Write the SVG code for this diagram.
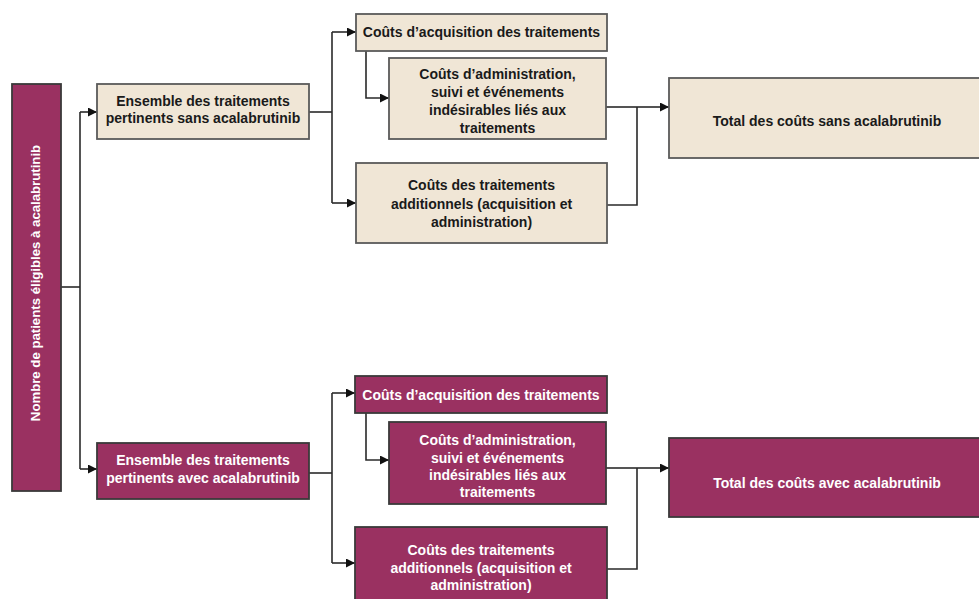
<svg xmlns="http://www.w3.org/2000/svg" width="979" height="599" viewBox="0 0 979 599">
  <defs>
    <marker id="arrow" viewBox="0 0 10 10" refX="10" refY="5" markerWidth="10" markerHeight="9" markerUnits="userSpaceOnUse" orient="auto">
      <path d="M0,0 L10,5 L0,10 z" fill="#111"/>
    </marker>
    <style>
      .beige { fill: #f0e6d6; stroke: #5a5a5a; stroke-width: 1.8; }
      .plum { fill: #9a3161; stroke: #3a3a3a; stroke-width: 1.8; }
      .lbl { font-family: "Liberation Sans", Arial, sans-serif; font-weight: bold; font-size: 14px; text-anchor: middle; }
      .dark { fill: #1a1a1a; }
      .light { fill: #ffffff; }
      .wire { fill: none; stroke: #2a2a2a; stroke-width: 1.6; }
      .arr { marker-end: url(#arrow); }
    </style>
  </defs>
  <rect width="979" height="599" fill="#ffffff"/>

  <!-- connectors -->
  <g id="connectors">
    <!-- root split -->
    <path class="wire" d="M61,287 H80"/>
    <path class="wire" d="M80,112 V469"/>
    <path class="wire arr" d="M80,112 H97"/>
    <path class="wire arr" d="M80,469 H97"/>

    <!-- upper branch -->
    <path class="wire" d="M309,112 H332"/>
    <path class="wire" d="M332,32 V203"/>
    <path class="wire arr" d="M332,32 H356"/>
    <path class="wire arr" d="M332,203 H356"/>
    <path class="wire arr" d="M366,51 V98 H389"/>
    <path class="wire" d="M606,107 H637"/>
    <path class="wire" d="M607,205 H637 V107"/>
    <path class="wire arr" d="M637,107 H669"/>

    <!-- lower branch -->
    <path class="wire" d="M309,473 H332"/>
    <path class="wire" d="M332,393 V563"/>
    <path class="wire arr" d="M332,393 H355"/>
    <path class="wire arr" d="M332,563 H355"/>
    <path class="wire arr" d="M366,413 V460 H389"/>
    <path class="wire" d="M606,468 H637"/>
    <path class="wire" d="M607,569 H637 V468"/>
    <path class="wire arr" d="M637,468 H669"/>
  </g>

  <!-- root -->
  <g id="patients">
    <rect class="plum" x="12" y="84" width="49" height="407"/>
    <text class="lbl light" style="font-size:13.2px" transform="translate(40,283) rotate(-90)">Nombre de patients éligibles à acalabrutinib</text>
  </g>

  <!-- upper branch: without acalabrutinib -->
  <g id="ensemble-sans">
    <rect class="beige" x="97" y="84" width="212" height="55"/>
    <text class="lbl dark" x="203" y="106">Ensemble des traitements</text>
    <text class="lbl dark" x="203" y="123">pertinents sans acalabrutinib</text>
  </g>
  <g id="acquisition-sans">
    <rect class="beige" x="356" y="14" width="251" height="37"/>
    <text class="lbl dark" x="481.5" y="37">Coûts d’acquisition des traitements</text>
  </g>
  <g id="administration-sans">
    <rect class="beige" x="389" y="58" width="217" height="81"/>
    <text class="lbl dark" x="497.5" y="79">Coûts d’administration,</text>
    <text class="lbl dark" x="497.5" y="97">suivi et événements</text>
    <text class="lbl dark" x="497.5" y="115">indésirables liés aux</text>
    <text class="lbl dark" x="497.5" y="133">traitements</text>
  </g>
  <g id="additionnels-sans">
    <rect class="beige" x="356" y="163" width="251" height="80"/>
    <text class="lbl dark" x="481.5" y="190">Coûts des traitements</text>
    <text class="lbl dark" x="481.5" y="209">additionnels (acquisition et</text>
    <text class="lbl dark" x="481.5" y="227">administration)</text>
  </g>
  <g id="total-sans">
    <rect class="beige" x="669" y="78" width="320" height="80"/>
    <text class="lbl dark" x="827" y="126">Total des coûts sans acalabrutinib</text>
  </g>

  <!-- lower branch: with acalabrutinib -->
  <g id="ensemble-avec">
    <rect class="plum" x="97" y="443" width="212" height="56"/>
    <text class="lbl light" x="203" y="465">Ensemble des traitements</text>
    <text class="lbl light" x="203" y="483">pertinents avec acalabrutinib</text>
  </g>
  <g id="acquisition-avec">
    <rect class="plum" x="355" y="376" width="252" height="37"/>
    <text class="lbl light" x="481" y="400">Coûts d’acquisition des traitements</text>
  </g>
  <g id="administration-avec">
    <rect class="plum" x="389" y="422" width="217" height="82"/>
    <text class="lbl light" x="497.5" y="445">Coûts d’administration,</text>
    <text class="lbl light" x="497.5" y="463">suivi et événements</text>
    <text class="lbl light" x="497.5" y="480">indésirables liés aux</text>
    <text class="lbl light" x="497.5" y="497">traitements</text>
  </g>
  <g id="additionnels-avec">
    <rect class="plum" x="355" y="527" width="252" height="80"/>
    <text class="lbl light" x="481" y="555">Coûts des traitements</text>
    <text class="lbl light" x="481" y="573">additionnels (acquisition et</text>
    <text class="lbl light" x="481" y="590">administration)</text>
  </g>
  <g id="total-avec">
    <rect class="plum" x="669" y="438" width="320" height="79"/>
    <text class="lbl light" x="827" y="488">Total des coûts avec acalabrutinib</text>
  </g>
</svg>
